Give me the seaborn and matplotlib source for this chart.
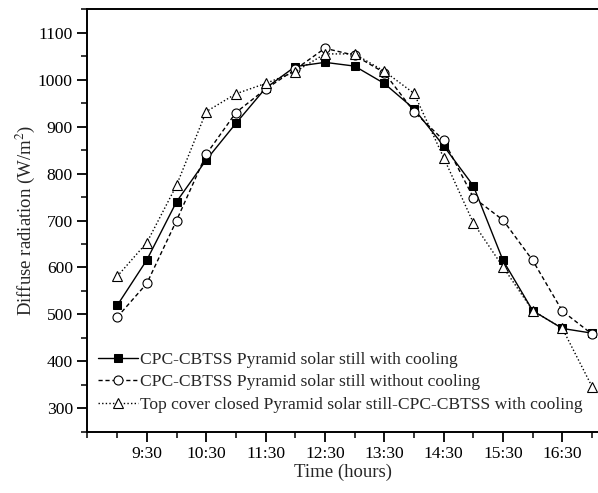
import matplotlib
matplotlib.use("Agg")
import matplotlib.pyplot as plt
import seaborn as sns
from matplotlib.ticker import MultipleLocator, FixedLocator

# measurement times (hours of the day)
hours = [9.0, 9.5, 10.0, 10.5, 11.0, 11.5, 12.0, 12.5, 13.0,
         13.5, 14.0, 14.5, 15.0, 15.5, 16.0, 16.5, 17.0]

with_cooling = [519, 616, 740, 829, 907, 982, 1028, 1037, 1029,
                992, 938, 859, 774, 615, 508, 470, 460]
without_cooling = [494, 566, 700, 841, 930, 980, 1022, 1067, 1052,
                   1015, 932, 871, 749, 701, 615, 507, 458]
top_cover = [581, 653, 775, 932, 970, 992, 1017, 1055, 1055,
             1018, 971, 834, 695, 601, 508, 470, 346]

labels = ['CPC-CBTSS Pyramid solar still with cooling',
          'CPC-CBTSS Pyramid solar still without cooling',
          'Top cover closed Pyramid solar still-CPC-CBTSS with cooling']

tick_pos = [9.5, 10.5, 11.5, 12.5, 13.5, 14.5, 15.5, 16.5]
tick_labels = ['9:30', '10:30', '11:30', '12:30', '13:30', '14:30', '15:30', '16:30']

sns.set_style('ticks')
plt.rcParams['font.family'] = ['Liberation Serif', 'DejaVu Serif']
plt.rcParams['mathtext.fontset'] = 'stix'

fig = plt.figure(figsize=(5.98, 4.93), dpi=100)
ax = fig.add_axes([0.1463, 0.1243, 0.8537, 0.8568])

sns.lineplot(x=hours, y=with_cooling, ax=ax, color='black', lw=1.0,
             marker='s', markersize=5.5, markerfacecolor='black',
             markeredgecolor='black', label=labels[0])
sns.lineplot(x=hours, y=without_cooling, ax=ax, color='black', lw=1.0,
             dashes=(3, 2), marker='o', markersize=6.5, markerfacecolor='white',
             markeredgecolor='black', markeredgewidth=0.8, label=labels[1])
sns.lineplot(x=hours, y=top_cover, ax=ax, color='black', lw=1.0,
             dashes=(1, 1.6), marker='^', markersize=7.5, markerfacecolor='white',
             markeredgecolor='black', markeredgewidth=0.8, label=labels[2])

ax.set_xlim(8.5, 17.1)
ax.set_ylim(250, 1150)
ax.xaxis.set_major_locator(FixedLocator(tick_pos))
ax.set_xticklabels(tick_labels)
ax.xaxis.set_minor_locator(MultipleLocator(0.5))
ax.yaxis.set_major_locator(MultipleLocator(100))
ax.yaxis.set_minor_locator(MultipleLocator(50))

ax.tick_params(which='major', direction='out', length=7, width=1.3,
               labelsize=12.6, color='black', labelcolor='black')
ax.tick_params(which='minor', direction='out', length=4, width=1.1, color='black')
ax.tick_params(axis='x', which='both', top=False)
ax.tick_params(axis='y', which='both', right=False)

for side in ['left', 'bottom', 'top']:
    ax.spines[side].set_linewidth(1.4)
    ax.spines[side].set_color('black')
ax.spines['right'].set_visible(False)

ax.set_xlabel('Time (hours)', fontsize=13.5, labelpad=1)
ax.set_ylabel('Diffuse radiation (W/m$^2$)', fontsize=13.5, labelpad=1)

ax.legend(loc='lower left', bbox_to_anchor=(0.0, 0.02), frameon=False,
          fontsize=12.6, handlelength=2.3, handletextpad=0.1,
          labelspacing=0.36, borderaxespad=0.2)

fig.savefig('out.png', dpi=100)
